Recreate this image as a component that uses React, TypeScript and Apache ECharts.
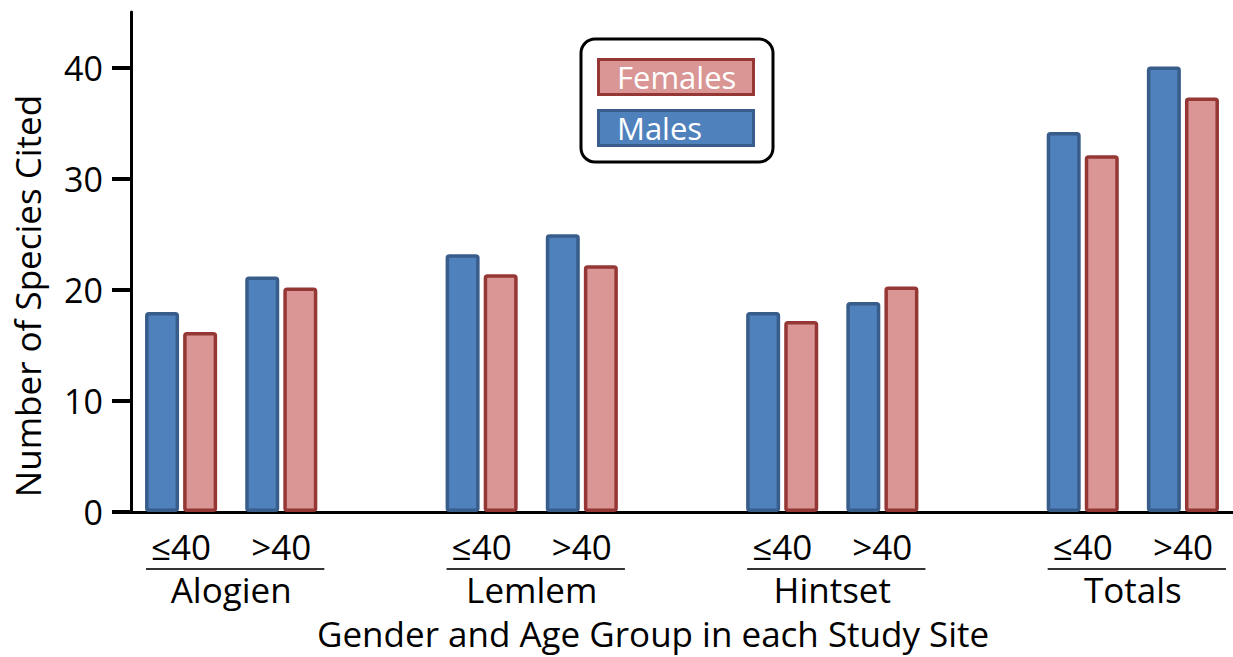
import React, { useEffect, useRef } from "react";
import * as echarts from "echarts";

const sites = ["Alogien", "Lemlem", "Hintset", "Totals"];
const ageGroups = ["≤40", ">40"];
const malesValues = [
  [18.0, 21.2],
  [23.2, 25.0],
  [18.0, 18.9],
  [34.2, 40.1],
];
const femalesValues = [
  [16.2, 20.2],
  [21.4, 22.2],
  [17.2, 20.3],
  [32.1, 37.3],
];
const yTicks = [0, 10, 20, 30, 40];
const yAxisName = "Number of Species Cited";
const xAxisName = "Gender and Age Group in each Study Site";

const FONT = "Open Sans";
const FS = 35;

export default function App() {
  const ref = useRef<HTMLDivElement>(null);

  useEffect(() => {
    document.body.style.margin = "0";
    if (!ref.current) return;
    const chart = echarts.init(ref.current, undefined, { renderer: "svg" });

    const categories: string[] = [];
    const males: (number | null)[] = [];
    const females: (number | null)[] = [];
    sites.forEach((s, si) => {
      ageGroups.forEach((a, ai) => {
        categories.push(s + "|" + a);
        males.push(malesValues[si][ai]);
        females.push(femalesValues[si][ai]);
      });
      if (si < sites.length - 1) {
        categories.push("gap" + si);
        males.push(null);
        females.push(null);
      }
    });
    const nSlots = categories.length;
    const siteCenters = sites.map((_, i) => i * 3 + 1);

    const legendText = (bg: string, border: string) => ({
      color: "#fff",
      fontFamily: FONT,
      fontSize: 31,
      backgroundColor: bg,
      borderColor: border,
      borderWidth: 3,
      width: 135,
      lineHeight: 29,
      padding: [2, 0, 1, 17],
    });

    const option: any = {
      animation: false,
      textStyle: { fontFamily: FONT },
      title: {
        text: xAxisName,
        left: 317,
        top: 617,
        padding: 0,
        textStyle: { fontFamily: FONT, fontSize: 35, lineHeight: 33, fontWeight: "normal", color: "#000" },
      },
      legend: {
        orient: "vertical",
        left: 581,
        top: 39,
        padding: [19, 18, 15, 13],
        itemGap: 13,
        itemWidth: 0,
        itemHeight: 0,
        borderColor: "#000",
        borderWidth: 3,
        borderRadius: 14,
        backgroundColor: "#fff",
        selectedMode: false,
        data: [
          { name: "Females", textStyle: legendText("#D99694", "#953735") },
          { name: "Males", textStyle: legendText("#4F81BD", "#385D8A") },
        ],
      },
      grid: { left: 131, right: -6, top: 12, bottom: 657 - 512, containLabel: false },
      xAxis: [
        {
          type: "category",
          data: categories,
          position: "bottom",
          axisLine: { show: true, lineStyle: { color: "#000", width: 3 } },
          axisTick: { show: false },
          axisLabel: {
            interval: 0,
            margin: 17,
            fontFamily: FONT,
            fontSize: FS,
            color: "#000",
            formatter: (v: string) => (v.indexOf("|") >= 0 ? v.split("|")[1] : ""),
          },
        },
        {
          type: "value",
          min: 0,
          max: nSlots,
          position: "bottom",
          axisLine: { show: false },
          axisTick: { show: false },
          splitLine: { show: false },
          axisLabel: {
            customValues: siteCenters,
            margin: 61,
            fontFamily: FONT,
            fontSize: FS,
            lineHeight: 33,
            color: "#000",
            formatter: (v: number) => {
              const i = siteCenters.indexOf(v);
              return i >= 0 ? sites[i] : "";
            },
          },
        },
      ],
      yAxis: {
        type: "value",
        min: 0,
        max: 45,
        interval: 10,
        offset: 2,
        name: yAxisName,
        nameLocation: "middle",
        nameGap: 84,
        nameTextStyle: { fontFamily: FONT, fontSize: FS, color: "#000", padding: [0, 68, 0, 0] },
        axisLine: { show: true, lineStyle: { color: "#000", width: 3 } },
        axisTick: {
          show: true,
          length: 19,
          customValues: yTicks,
          lineStyle: { color: "#000", width: 4 },
        },
        axisLabel: {
          customValues: yTicks,
          margin: 26,
          fontFamily: FONT,
          fontSize: 34,
          color: "#000",
        },
        splitLine: { show: false },
      },
      series: [
        {
          name: "Males",
          type: "bar",
          data: males,
          barWidth: 34,
          barGap: "12%",
          itemStyle: { color: "#4F81BD", borderColor: "#385D8A", borderWidth: 3.5, borderRadius: 2 },
        },
        {
          name: "Females",
          type: "bar",
          data: females,
          barWidth: 34,
          barGap: "12%",
          itemStyle: { color: "#D99694", borderColor: "#953735", borderWidth: 3.5, borderRadius: 2 },
        },
      ],
    };
    chart.setOption(option);

    const lines = sites.map((_, i) => {
      const x1 = chart.convertToPixel({ xAxisIndex: 1 }, i * 3 + 0.15) as number;
      const x2 = chart.convertToPixel({ xAxisIndex: 1 }, i * 3 + 1.93) as number;
      return {
        type: "line",
        shape: { x1, y1: 569, x2, y2: 569 },
        style: { stroke: "#333", lineWidth: 2 },
        silent: true,
      };
    });
    chart.setOption({ graphic: lines });

    return () => chart.dispose();
  }, []);

  return <div ref={ref} style={{ width: 1233, height: 657 }} />;
}
